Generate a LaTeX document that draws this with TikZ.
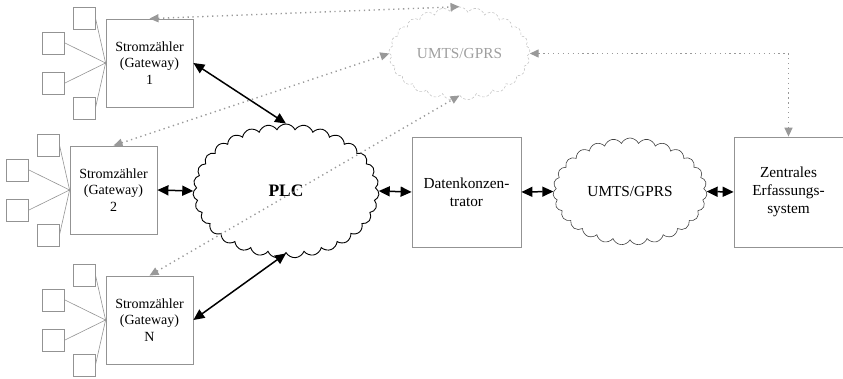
\documentclass[tikz,border=0pt]{standalone}
\usepackage{fontspec}
\setmainfont{Liberation Serif}
\usetikzlibrary{shapes.symbols,arrows.meta}

\begin{document}
\begin{tikzpicture}[x=1pt,y=-1pt,
  gateway/.style={draw=gray!85, line width=0.8pt, minimum width=87pt, minimum height=88pt,
    inner sep=0pt, align=center, font=\fontsize{14}{16.5}\selectfont},
  unit/.style={draw=gray!85, line width=0.8pt, minimum width=109pt, minimum height=110pt,
    inner sep=0pt, align=center, font=\fontsize{15.3}{18}\selectfont},
  device/.style={draw=gray!85, line width=0.7pt, minimum size=22pt, inner sep=0pt},
  feed/.style={draw=gray!85, line width=0.6pt},
  net/.style={cloud, cloud ignores aspect, inner sep=0pt, align=center},
  link/.style={line width=1.5pt, {Triangle[length=11pt,width=10pt]}-{Triangle[length=11pt,width=10pt]}},
  radio/.style={line width=1.4pt, dash pattern=on 1.3pt off 3.6pt,
    {Triangle[length=9pt,width=8pt]}-{Triangle[length=9pt,width=8pt]}, color=gray!80},
]
\useasboundingbox (0,0) rectangle (843,378);

% smart meter gateways
\node[gateway] (g1) at (149.5,63) {Stromzähler\\(Gateway)\\1};
\node[gateway] (g2) at (113.5,190) {Stromzähler\\(Gateway)\\2};
\node[gateway] (gn) at (149.5,320) {Stromzähler\\(Gateway)\\N};

% attached meters
\foreach \g in {g1,g2,gn} {
  \foreach \n/\dx/\dy in {a/-21.5/-45, b/-52/-20, c/-52/20, d/-21.5/45} {
    \node[device] (\g\n) at ([shift={(\dx,\dy)}]\g.west) {};
    \draw[feed] (\g\n.east) -- (\g.west);
  }
}

% networks
\node[net, draw=black, line width=0.9pt, cloud puffs=31, cloud puff arc=130,
  minimum width=186pt, minimum height=134pt, font=\bfseries\fontsize{17.5}{20}\selectfont]
  (plc) at (286,191) {PLC};
\node[net, draw=black!75, line width=0.6pt, cloud puffs=27, cloud puff arc=130,
  minimum width=154pt, minimum height=107pt, font=\fontsize{15.3}{18}\selectfont]
  (umts) at (630,191.5) {UMTS/GPRS};
\node[net, draw=gray!45, line width=0.6pt, dash pattern=on 2.5pt off 2pt, cloud puffs=25, cloud puff arc=130,
  minimum width=141pt, minimum height=93pt, text=gray!75, font=\fontsize{15.3}{18}\selectfont]
  (air) at (459.5,53.5) {UMTS/GPRS};

% data concentrator and head-end system
\node[unit] (dk) at (466.5,192) {Datenkonzen-\\trator};
\node[unit] (zen) at (788.5,192) {Zentrales\\Erfassungs-\\system};

% wired links
\draw[link] (g1.east) -- (plc.north);
\draw[link] (g2.east) -- (plc.west);
\draw[link] (gn.east) -- (plc.south);
\draw[link] (plc.east) -- (dk.west);
\draw[link] (dk.east) -- (umts.west);
\draw[link] (umts.east) -- (zen.west);

% wireless links
\draw[radio] (g1.north) -- (air.north);
\draw[radio] (g2.north) -- (air.west);
\draw[radio] (gn.north) -- (air.south);
\draw[radio] (air.east) -| (zen.north);
\end{tikzpicture}
\end{document}
